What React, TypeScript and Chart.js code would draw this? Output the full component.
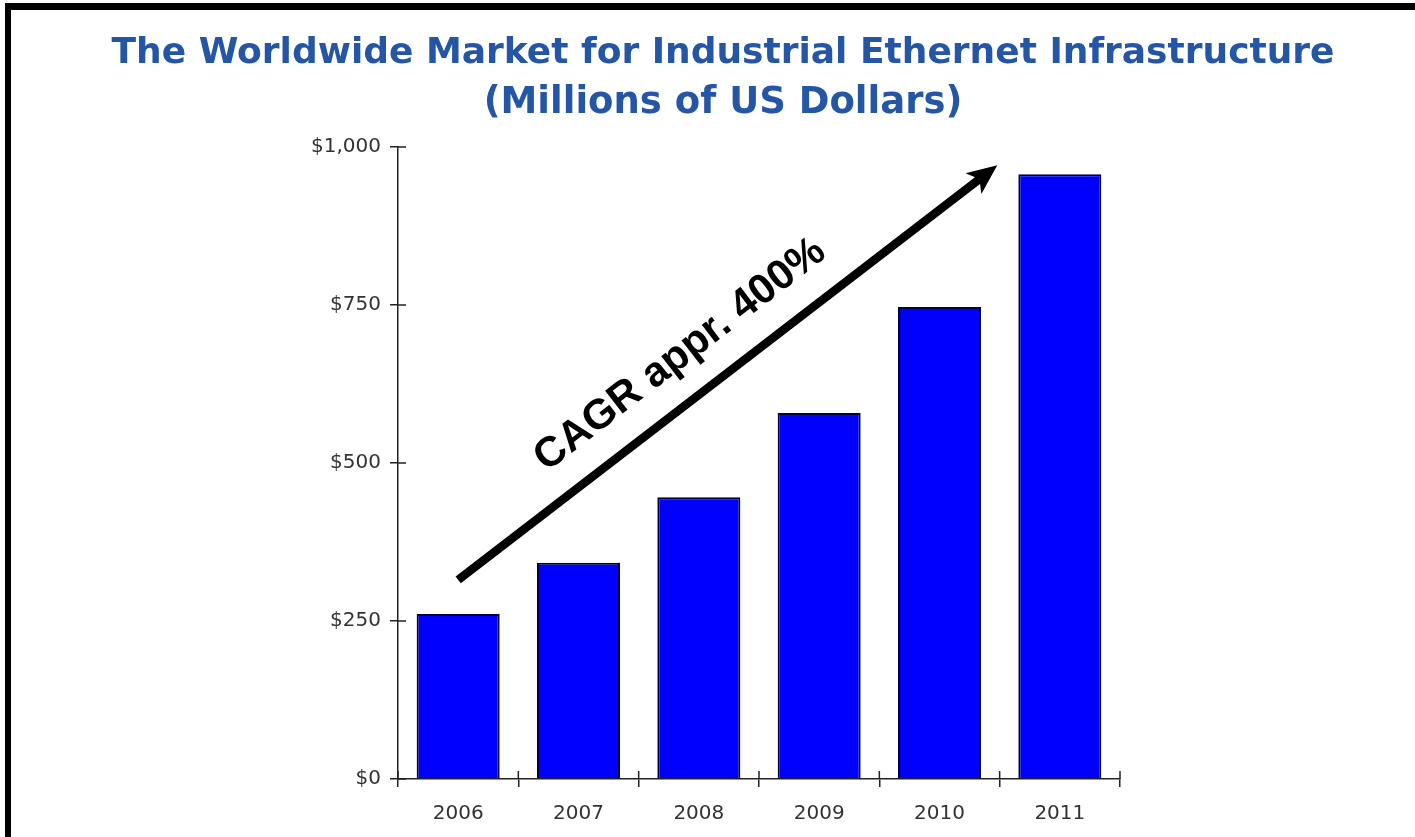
import { useEffect, useRef } from 'react';
import Chart from 'chart.js/auto';

const years = ['2006', '2007', '2008', '2009', '2010', '2011'];
const marketValues = [261, 342, 446, 579, 747, 957];
const yTickValues = [0, 250, 500, 750, 1000];
const titleLines = [
    'The Worldwide Market for Industrial Ethernet Infrastructure',
    '(Millions of US Dollars)',
];
const annotationText = 'CAGR appr. 400%';

// arrow + label anchored in data space: [category index, value]
const arrowStart = [0, 315];
const arrowEnd = [4.48, 971];
const labelCenter = [1.845, 671];

const decorPlugin = {
    id: 'decor',
    beforeDraw(chart: any) {
        const { ctx, width, height } = chart;
        ctx.save();
        ctx.fillStyle = '#ffffff';
        ctx.fillRect(0, 0, width, height);
        // black frame, top and left only
        ctx.fillStyle = '#000000';
        ctx.fillRect(5, 3, width - 5, 7);
        ctx.fillRect(5, 3, 6, height - 3);
        ctx.restore();
    },
    afterDraw(chart: any) {
        const { ctx, chartArea } = chart;
        const x = chart.scales.x;
        const y = chart.scales.y;
        ctx.save();

        // title
        ctx.fillStyle = '#2456a5';
        ctx.textAlign = 'center';
        ctx.textBaseline = 'alphabetic';
        ctx.font = 'bold 36px "DejaVu Sans", Verdana, sans-serif';
        ctx.fillText(titleLines[0], 723, 63);
        ctx.font = 'bold 37px "DejaVu Sans", Verdana, sans-serif';
        ctx.fillText(titleLines[1], 723, 113);

        // inner halves of the axis ticks
        ctx.strokeStyle = '#222222';
        ctx.lineWidth = 1.5;
        ctx.beginPath();
        y.ticks.forEach((_: any, i: number) => {
            const py = y.getPixelForTick(i);
            ctx.moveTo(chartArea.left, py);
            ctx.lineTo(chartArea.left + 8, py);
        });
        for (let i = 0; i <= years.length; i++) {
            const px = chartArea.left + (i * (chartArea.right - chartArea.left)) / years.length;
            ctx.moveTo(px, chartArea.bottom);
            ctx.lineTo(px, chartArea.bottom - 8);
        }
        ctx.stroke();

        // arrow
        const x0 = x.getPixelForValue(arrowStart[0]);
        const y0 = y.getPixelForValue(arrowStart[1]);
        const x1 = x.getPixelForValue(arrowEnd[0]);
        const y1 = y.getPixelForValue(arrowEnd[1]);
        const ang = Math.atan2(y1 - y0, x1 - x0);
        const dx = Math.cos(ang);
        const dy = Math.sin(ang);
        const headLen = 30;
        const headHalf = 13;
        ctx.strokeStyle = '#000000';
        ctx.fillStyle = '#000000';
        ctx.lineWidth = 8.5;
        ctx.lineCap = 'butt';
        ctx.beginPath();
        ctx.moveTo(x0, y0);
        ctx.lineTo(x1 - dx * headLen * 0.75, y1 - dy * headLen * 0.75);
        ctx.stroke();
        ctx.beginPath();
        ctx.moveTo(x1, y1);
        ctx.lineTo(x1 - dx * headLen - dy * headHalf, y1 - dy * headLen + dx * headHalf);
        ctx.lineTo(x1 - dx * headLen * 0.75, y1 - dy * headLen * 0.75);
        ctx.lineTo(x1 - dx * headLen + dy * headHalf, y1 - dy * headLen - dx * headHalf);
        ctx.closePath();
        ctx.fill();

        // rotated label
        const lx = x.getPixelForValue(labelCenter[0]);
        const ly = y.getPixelForValue(labelCenter[1]);
        ctx.translate(lx, ly);
        ctx.rotate(ang);
        ctx.font = 'bold 42px "Liberation Sans", Arial, sans-serif';
        ctx.textAlign = 'center';
        ctx.textBaseline = 'middle';
        ctx.fillText(annotationText, 0, 0);
        ctx.restore();
    },
};

export default function App() {
    const canvasRef = useRef<HTMLCanvasElement>(null);

    useEffect(() => {
        if (!canvasRef.current) return;
        const chart = new Chart(canvasRef.current.getContext('2d')!, {
            type: 'bar',
            data: {
                labels: years,
                datasets: [{
                    label: 'Market',
                    data: marketValues,
                    backgroundColor: '#0000ff',
                    borderColor: '#00003a',
                    borderWidth: 2,
                    categoryPercentage: 1,
                    barPercentage: 0.69,
                }],
            },
            options: {
                responsive: false,
                animation: false,
                layout: { padding: { left: 0, top: 147, right: 295, bottom: 0 } },
                plugins: {
                    legend: { display: false },
                    title: { display: false },
                    tooltip: { enabled: false },
                },
                scales: {
                    x: {
                        afterFit: (scale: any) => { scale.height = 58; },
                        border: { color: '#222222', width: 1.5 },
                        grid: { drawOnChartArea: false, tickLength: 8, color: '#222222', lineWidth: 1.5 },
                        ticks: {
                            color: '#333333',
                            padding: 15,
                            font: { family: '"DejaVu Sans", Verdana, sans-serif', size: 20 },
                        },
                    },
                    y: {
                        min: 0,
                        max: 1000,
                        afterFit: (scale: any) => { scale.width = 398; },
                        afterBuildTicks: (scale: any) => {
                            scale.ticks = yTickValues.map(v => ({ value: v }));
                        },
                        border: { color: '#222222', width: 1.5 },
                        grid: { drawOnChartArea: false, tickLength: 8, color: '#222222', lineWidth: 1.5 },
                        ticks: {
                            color: '#333333',
                            padding: 9,
                            font: { family: '"DejaVu Sans", Verdana, sans-serif', size: 20 },
                            callback: (v: any) => '$' + Number(v).toLocaleString('en-US'),
                        },
                    },
                },
            },
            plugins: [decorPlugin],
        });
        return () => chart.destroy();
    }, []);

    return (
        <div style={{ position: 'absolute', left: 0, top: 0, width: 1415, height: 837 }}>
            <canvas ref={canvasRef} width={1415} height={837}></canvas>
        </div>
    );
}
